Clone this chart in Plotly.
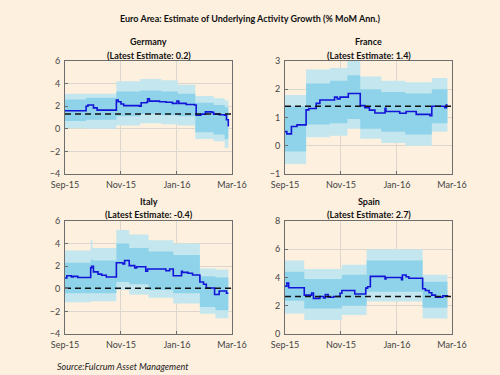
import plotly.graph_objects as go

# ---------------- data ----------------
x_ticks = ["2015-09-01", "2015-11-01", "2016-01-01", "2016-03-01"]
x_tick_labels = ["Sep-15", "Nov-15", "Jan-16", "Mar-16"]
x_range = ["2015-09-01", "2016-03-01"]

# Germany
de_dates = ["2015-09-01", "2015-09-24", "2015-09-26", "2015-10-02", "2015-10-06", "2015-10-27",
            "2015-10-29", "2015-11-01", "2015-11-04", "2015-11-21", "2015-11-23", "2015-11-29",
            "2015-11-30", "2015-12-02", "2015-12-13", "2015-12-20", "2015-12-27", "2016-01-01",
            "2016-01-03", "2016-01-11", "2016-01-20", "2016-01-22", "2016-01-27", "2016-02-01",
            "2016-02-08", "2016-02-10", "2016-02-16", "2016-02-22", "2016-02-24", "2016-02-26"]
de_vals = [1.6, 2.0, 2.1, 1.85, 1.65, 2.55, 2.4, 2.2, 2.05, 2.0, 2.3, 2.35, 2.65, 2.45, 2.4,
           2.35, 2.25, 2.45, 2.25, 2.15, 2.1, 1.2, 1.3, 1.5, 1.45, 1.3, 1.25, 1.2, 0.8, 0.2]
de_band_dates = ["2015-09-01", "2015-09-24", "2015-10-27", "2015-11-22", "2015-12-15",
                 "2016-01-02", "2016-01-21", "2016-02-10", "2016-02-22", "2016-02-26"]
de_outer_hi = [3.1, 3.1, 4.2, 4.4, 4.3, 3.9, 2.9, 2.7, 2.5, 2.5]
de_inner_hi = [2.6, 2.75, 3.3, 3.4, 3.3, 3.1, 2.3, 2.1, 1.9, 1.9]
de_inner_lo = [0.7, 0.8, 1.1, 1.3, 1.2, 1.1, -0.3, -0.5, -0.9, -0.9]
de_outer_lo = [0.05, 0.0, 0.3, 0.5, 0.4, 0.3, -0.9, -1.1, -1.7, -1.7]
de_mean = 1.3

# France
fr_dates = ["2015-09-01", "2015-09-03", "2015-09-08", "2015-09-14", "2015-09-24", "2015-09-27",
            "2015-10-05", "2015-10-09", "2015-10-25", "2015-10-28", "2015-10-31", "2015-11-09",
            "2015-11-22", "2015-11-27", "2015-12-02", "2015-12-08", "2015-12-19", "2015-12-20",
            "2016-01-04", "2016-01-11", "2016-01-22", "2016-02-06", "2016-02-08", "2016-02-22",
            "2016-02-24", "2016-02-25"]
fr_vals = [0.5, 0.42, 0.68, 0.74, 1.27, 1.32, 1.5, 1.62, 1.72, 1.66, 1.72, 1.85, 1.42, 1.35,
           1.26, 1.16, 1.33, 1.21, 1.15, 1.21, 1.11, 1.06, 1.4, 1.35, 1.45, 1.45]
fr_band_dates = ["2015-09-01", "2015-09-24", "2015-10-20", "2015-11-08", "2015-11-22",
                 "2015-12-15", "2016-01-10", "2016-02-08", "2016-02-25"]
fr_outer_hi = [1.8, 2.7, 2.75, 3.0, 2.45, 2.3, 2.25, 2.4, 2.4]
fr_inner_hi = [1.4, 2.2, 2.3, 2.5, 2.0, 1.9, 1.85, 2.0, 2.0]
fr_inner_lo = [-0.2, 0.75, 0.8, 0.95, 0.6, 0.5, 0.4, 0.8, 0.8]
fr_outer_lo = [-0.65, 0.3, 0.35, 0.6, 0.25, 0.1, 0.0, 0.5, 0.5]
fr_mean = 1.4

# Italy
it_dates = ["2015-09-01", "2015-09-03", "2015-09-08", "2015-09-10", "2015-09-15", "2015-09-29",
            "2015-09-30", "2015-10-02", "2015-10-07", "2015-10-11", "2015-10-16", "2015-10-27",
            "2015-11-03", "2015-11-05", "2015-11-10", "2015-11-16", "2015-11-18", "2015-11-28",
            "2015-11-30", "2015-12-20", "2015-12-24", "2015-12-28", "2016-01-06", "2016-01-07",
            "2016-01-13", "2016-01-18", "2016-01-26", "2016-01-30", "2016-02-02", "2016-02-11",
            "2016-02-16", "2016-02-24", "2016-02-26"]
it_vals = [0.96, 1.15, 1.05, 1.1, 1.0, 1.85, 2.0, 1.5, 1.3, 1.2, 1.05, 2.3, 2.2, 2.5, 2.05,
           1.85, 1.95, 1.55, 1.75, 1.6, 1.75, 1.15, 1.55, 1.45, 1.38, 1.22, 0.6, 0.4, 0.07,
           -0.5, -0.2, -0.4, -0.4]
it_band_dates = ["2015-09-01", "2015-09-29", "2015-10-01", "2015-10-27", "2015-11-10",
                 "2015-12-01", "2015-12-28", "2016-01-26", "2016-02-12", "2016-02-26"]
it_outer_hi = [3.4, 4.3, 3.6, 5.2, 4.8, 4.3, 4.0, 1.8, 1.7, 1.7]
it_inner_hi = [2.3, 2.6, 2.5, 4.0, 3.6, 3.3, 3.0, 1.1, 1.0, 1.0]
it_inner_lo = [-0.4, -0.4, -0.4, 0.6, 0.4, -0.1, -0.4, -1.6, -1.9, -1.9]
it_outer_lo = [-1.2, -1.1, -1.1, -0.1, -0.5, -0.8, -1.3, -2.2, -2.6, -2.6]
it_mean = 0.05

# Spain
es_dates = ["2015-09-01", "2015-09-03", "2015-09-05", "2015-09-22", "2015-09-30", "2015-10-02",
            "2015-10-09", "2015-10-13", "2015-10-15", "2015-10-18", "2015-10-24", "2015-10-31",
            "2015-11-02", "2015-11-16", "2015-11-28", "2015-11-30", "2015-12-03", "2015-12-19",
            "2015-12-20", "2016-01-06", "2016-01-07", "2016-01-11", "2016-01-14", "2016-01-29",
            "2016-02-01", "2016-02-05", "2016-02-08", "2016-02-12", "2016-02-20", "2016-02-25"]
es_vals = [3.38, 3.6, 3.27, 2.75, 2.9, 2.52, 2.65, 2.55, 2.8, 2.6, 2.65, 2.88, 3.08, 2.83,
           3.25, 3.35, 4.08, 3.9, 4.0, 3.84, 4.18, 4.05, 3.95, 3.2, 3.08, 2.92, 2.75, 2.6,
           2.7, 2.62]
es_band_dates = ["2015-09-01", "2015-09-22", "2015-11-02", "2015-11-29", "2016-01-29", "2016-02-25"]
es_outer_hi = [5.2, 4.6, 4.9, 6.0, 4.2, 4.2]
es_inner_hi = [4.4, 3.9, 4.2, 5.2, 3.7, 3.7]
es_inner_lo = [2.35, 1.8, 2.0, 3.0, 1.85, 1.85]
es_outer_lo = [1.45, 1.0, 1.35, 2.3, 1.1, 1.1]
es_mean = 2.65

countries = ["Germany", "France", "Italy", "Spain"]
latest = ["0.2", "1.4", "-0.4", "2.7"]
y_ranges = [[-4, 6], [-1, 3], [-4, 6], [0, 8]]
y_dticks = [2, 1, 2, 2]

# ---------------- styling ----------------
BG = "#FDF0DF"
LIGHT = "#C4E6EE"
DARK = "#8ED3E9"
LINE = "#1414D8"
FONT = "Lato"

panels = [
    (de_dates, de_vals, de_band_dates, de_outer_lo, de_outer_hi, de_inner_lo, de_inner_hi, de_mean),
    (fr_dates, fr_vals, fr_band_dates, fr_outer_lo, fr_outer_hi, fr_inner_lo, fr_inner_hi, fr_mean),
    (it_dates, it_vals, it_band_dates, it_outer_lo, it_outer_hi, it_inner_lo, it_inner_hi, it_mean),
    (es_dates, es_vals, es_band_dates, es_outer_lo, es_outer_hi, es_inner_lo, es_inner_hi, es_mean),
]

W, H = 500, 375
x_doms = [[65 / W, 232 / W], [285 / W, 452 / W]]
y_doms = [[1 - 174 / H, 1 - 61 / H], [1 - 334 / H, 1 - 221 / H]]
title_px = [(42, 55), (201, 214)]

fig = go.Figure()
layout = dict(
    template="none",
    width=W, height=H, margin=dict(l=0, r=0, t=0, b=0, pad=0, autoexpand=False),
    paper_bgcolor=BG, plot_bgcolor=BG, showlegend=False,
    font=dict(family=FONT, size=9, color="#444444"),
)
annotations = []

for i, (dates, vals, bdates, olo, ohi, ilo, ihi, mean) in enumerate(panels):
    col = i % 2
    row = i // 2
    xa = "x" if i == 0 else f"x{i+1}"
    ya = "y" if i == 0 else f"y{i+1}"
    xkey = "xaxis" if i == 0 else f"xaxis{i+1}"
    ykey = "yaxis" if i == 0 else f"yaxis{i+1}"

    common = dict(xaxis=xa, yaxis=ya, hoverinfo="skip")
    fig.add_trace(go.Scatter(x=bdates, y=olo, mode="lines", line=dict(width=0, shape="hv", color=LIGHT), **common))
    fig.add_trace(go.Scatter(x=bdates, y=ohi, mode="lines", fill="tonexty", fillcolor=LIGHT,
                             line=dict(width=0, shape="hv", color=LIGHT), **common))
    fig.add_trace(go.Scatter(x=bdates, y=ilo, mode="lines", line=dict(width=0, shape="hv", color=DARK), **common))
    fig.add_trace(go.Scatter(x=bdates, y=ihi, mode="lines", fill="tonexty", fillcolor=DARK,
                             line=dict(width=0, shape="hv", color=DARK), **common))
    fig.add_trace(go.Scatter(x=dates, y=vals, mode="lines", line=dict(width=1.6, shape="hv", color=LINE), **common))
    fig.add_trace(go.Scatter(x=x_range, y=[mean, mean], mode="lines",
                             line=dict(width=1.5, color="#111111", dash="6px,4px"), **common))

    axis_style = dict(showline=True, mirror=True, linecolor="#6E6E6E", linewidth=1,
                      showgrid=True, gridcolor="#DDD6CC", gridwidth=1, zeroline=False,
                      ticks="inside", ticklen=3, tickcolor="#6E6E6E", automargin=False,
                      tickfont=dict(family=FONT, size=9, color="#444444"))
    layout[xkey] = dict(domain=x_doms[col], anchor=ya, type="date", range=x_range,
                        tickvals=x_ticks, ticktext=x_tick_labels, ticklabelstandoff=2, **axis_style)
    layout[ykey] = dict(domain=y_doms[row], anchor=xa, range=y_ranges[i],
                        dtick=y_dticks[i], tick0=0, ticklabelstandoff=2, **axis_style)

    xc = (x_doms[col][0] + x_doms[col][1]) / 2
    t1, t2 = title_px[row]
    annotations.append(dict(
        x=xc, y=1 - t1 / H, xref="paper", yref="paper", xanchor="center", yanchor="middle",
        showarrow=False, text=f"<b>{countries[i]}</b>",
        font=dict(family=FONT, size=9, color="#111111")))
    annotations.append(dict(
        x=xc, y=1 - t2 / H, xref="paper", yref="paper", xanchor="center", yanchor="middle",
        showarrow=False, text=f"<b>(Latest Estimate: {latest[i]})</b>",
        font=dict(family=FONT, size=9, color="#111111")))

annotations.append(dict(x=0.5, y=1 - 19 / H, xref="paper", yref="paper", xanchor="center",
                        yanchor="middle", showarrow=False,
                        text="<b>Euro Area: Estimate of Underlying Activity Growth (% MoM Ann.)</b>",
                        font=dict(family=FONT, size=9, color="#111111")))
annotations.append(dict(x=55 / W, y=1 - 366 / H, xref="paper", yref="paper", xanchor="left",
                        yanchor="middle", showarrow=False,
                        text="<i>Source:Fulcrum Asset Management</i>",
                        font=dict(family=FONT, size=9, color="#222222")))
layout["annotations"] = annotations
fig.update_layout(**layout)
fig.write_html(
    "out.html",
    config={"displayModeBar": False, "staticPlot": True},
    post_script="document.body.style.margin='0';document.body.style.background='" + BG + "';",
)
